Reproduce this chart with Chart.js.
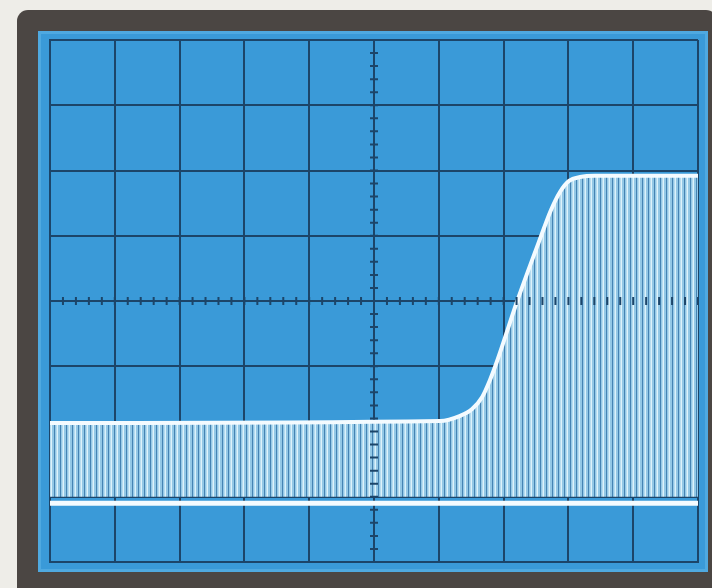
<!DOCTYPE html>
<html>
<head>
<meta charset="utf-8">
<script src="https://cdn.jsdelivr.net/npm/chart.js@4.4.1/dist/chart.umd.min.js"></script>
<style>
  html, body { margin: 0; padding: 0; width: 712px; height: 588px; overflow: hidden; background: #eeede8; }
  .frame { position: absolute; left: 17px; top: 10px; width: 700px; height: 590px; background: #4b4643; border-radius: 11px; }
  .screen { position: absolute; left: 38px; top: 31px; width: 670px; height: 541px; background: #3a9ad8; box-shadow: inset 0 0 0 3px #4fa9e0; }
  #wrap { position: absolute; left: 0; top: 0; width: 712px; height: 588px; }
</style>
</head>
<body>
<div class="frame"></div>
<div class="screen"></div>
<div id="wrap"><canvas id="c" width="712" height="588"></canvas></div>
<script>
// Oscilloscope trace, in screen divisions (x: -5..5, y: -4..4)
const timeDiv   = [-5, 1.02, 1.33, 1.51, 1.67, 1.79, 1.90, 2.21, 2.58, 2.73, 2.87, 3.01, 3.18, 3.41, 5.0];
const signalDiv = [-1.87, -1.84, -1.76, -1.66, -1.47, -1.21, -0.92, 0.0, 1.0, 1.39, 1.67, 1.84, 1.90, 1.92, 1.92];
const baseTime  = [-5, 5];
const baseLevel = [-3.1, -3.1];
const fillFloor = -3;
const xTicks = [-5, -4, -3, -2, -1, 0, 1, 2, 3, 4, 5];
const yTicks = [-4, -3, -2, -1, 0, 1, 2, 3, 4];
const minorStep = 0.2;

function makePattern() {
  const p = document.createElement('canvas');
  p.width = 6; p.height = 4;
  const g = p.getContext('2d');
  g.fillStyle = '#93c8e6'; g.fillRect(0, 0, 6, 4);
  g.fillStyle = '#4583b3'; g.fillRect(0, 0, 1, 4);
  g.fillStyle = '#ddf2fb'; g.fillRect(3, 0, 1, 4);
  g.fillStyle = '#b6dcf0'; g.fillRect(2, 0, 1, 4);
  return document.getElementById('c').getContext('2d').createPattern(p, 'repeat');
}

const gridColor = '#1c4569';

const minorTicks = {
  id: 'minorTicks',
  afterDraw(chart) {
    const ctx = chart.ctx, xs = chart.scales.x, ys = chart.scales.y;
    const cx = xs.getPixelForValue(0), cy = ys.getPixelForValue(0);
    ctx.save();
    ctx.strokeStyle = gridColor; ctx.lineWidth = 2;
    ctx.beginPath();
    for (let v = -5; v <= 5.0001; v += minorStep) {
      const px = xs.getPixelForValue(v);
      ctx.moveTo(px, cy - 4); ctx.lineTo(px, cy + 4);
    }
    for (let v = -4; v <= 4.0001; v += minorStep) {
      const py = ys.getPixelForValue(v);
      ctx.moveTo(cx - 4, py); ctx.lineTo(cx + 4, py);
    }
    ctx.stroke();
    ctx.restore();
  }
};

new Chart(document.getElementById('c'), {
  type: 'line',
  data: {
    datasets: [
      {
        data: timeDiv.map((t, i) => ({ x: t, y: signalDiv[i] })),
        borderColor: '#f4fbff',
        borderWidth: 4,
        pointRadius: 0,
        cubicInterpolationMode: 'monotone',
        fill: { value: fillFloor },
        backgroundColor: makePattern()
      },
      {
        data: baseTime.map((t, i) => ({ x: t, y: baseLevel[i] })),
        borderColor: '#f4fbff',
        borderWidth: 5,
        pointRadius: 0,
        fill: false
      }
    ]
  },
  options: {
    responsive: false,
    animation: false,
    events: [],
    layout: { padding: { left: 50, top: 40, right: 14, bottom: 26 } },
    plugins: { legend: { display: false }, tooltip: { enabled: false } },
    scales: {
      x: {
        type: 'linear', min: -5, max: 5, z: 1,
        afterBuildTicks: s => { s.ticks = xTicks.map(v => ({ value: v })); },
        ticks: { display: false },
        grid: { color: gridColor, lineWidth: 2, drawTicks: false },
        border: { display: true, color: gridColor, width: 2 }
      },
      y: {
        type: 'linear', min: -4, max: 4, z: 1,
        afterBuildTicks: s => { s.ticks = yTicks.map(v => ({ value: v })); },
        ticks: { display: false },
        grid: { color: gridColor, lineWidth: 2, drawTicks: false },
        border: { display: true, color: gridColor, width: 2 }
      }
    }
  },
  plugins: [minorTicks]
});
</script>
</body>
</html>
